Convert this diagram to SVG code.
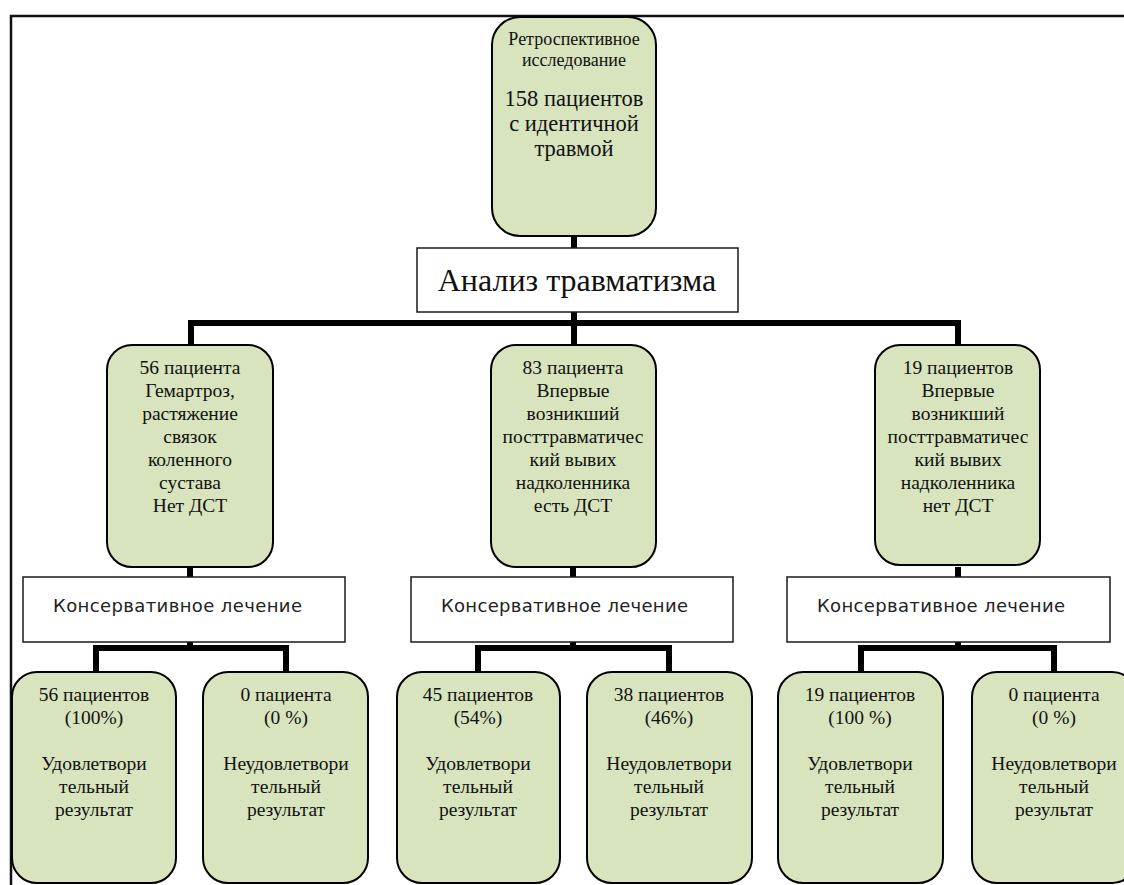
<svg xmlns="http://www.w3.org/2000/svg" width="1124" height="885" viewBox="0 0 1124 885">
<style>
.node{fill:#d7e4bd;stroke:#000;stroke-width:2}
.box{fill:#fff;stroke:#1a1a1a;stroke-width:1.5}
.t{font-family:"Liberation Serif","Times New Roman",serif;font-size:19.5px;fill:#111;text-anchor:middle}
.ts{font-family:"Liberation Serif","Times New Roman",serif;font-size:18px;fill:#111;text-anchor:middle}
.tb{font-family:"Liberation Serif","Times New Roman",serif;font-size:22.5px;fill:#111;text-anchor:middle}
.tl{font-family:"Liberation Serif","Times New Roman",serif;font-size:32px;fill:#111;text-anchor:middle}
.sans{font-family:"DejaVu Sans",Verdana,sans-serif;font-size:18px;fill:#222}
.c{stroke:#000;stroke-width:6;fill:none;stroke-linecap:butt}
.frame{stroke:#111;stroke-width:2.5;fill:none}
</style>
<rect width="1124" height="885" fill="#fff"/>
<g id="frame">
<path class="frame" d="M11,885 V16 H1124"/>
</g>
<g id="connectors">
<path class="c" d="M574,236 V248"/>
<path class="c" d="M574,312 V323"/>
<path class="c" d="M191,345 V323 H958 V345"/>
<path class="c" d="M574,323 V345"/>
<path class="c" d="M190,567 V577"/>
<path class="c" d="M573,567 V577"/>
<path class="c" d="M958,567 V577"/>
<path class="c" d="M96,672 V648 H286 V672"/>
<path class="c" d="M190,642 V648"/>
<path class="c" d="M478,672 V648 H669 V672"/>
<path class="c" d="M573,642 V648"/>
<path class="c" d="M861,672 V648 H1054 V672"/>
<path class="c" d="M958,642 V648"/>
</g>
<g id="n-top">
<rect class="node" x="492" y="17" width="164" height="219" rx="28"/>
<text class="ts" x="574" y="45">Ретроспективное</text>
<text class="ts" x="574" y="66">исследование</text>
<text class="tb" x="574" y="106">158 пациентов</text>
<text class="tb" x="574" y="131">с идентичной</text>
<text class="tb" x="574" y="156">травмой</text>
</g>
<g id="n-analysis">
<rect class="box" x="417" y="248" width="321" height="64"/>
<text class="tl" x="577" y="291">Анализ травматизма</text>
</g>
<g id="n-56">
<rect class="node" x="107" y="345" width="166" height="222" rx="25"/>
<text class="t" x="190" y="374">56 пациента</text>
<text class="t" x="190" y="397">Гемартроз,</text>
<text class="t" x="190" y="420">растяжение</text>
<text class="t" x="190" y="443">связок</text>
<text class="t" x="190" y="466">коленного</text>
<text class="t" x="190" y="489">сустава</text>
<text class="t" x="190" y="512">Нет ДСТ</text>
</g>
<g id="n-83">
<rect class="node" x="491" y="345" width="165" height="222" rx="25"/>
<text class="t" x="573" y="374">83 пациента</text>
<text class="t" x="573" y="397">Впервые</text>
<text class="t" x="573" y="420">возникший</text>
<text class="t" x="573" y="443">посттравматичес</text>
<text class="t" x="573" y="466">кий вывих</text>
<text class="t" x="573" y="489">надколенника</text>
<text class="t" x="573" y="512">есть ДСТ</text>
</g>
<g id="n-19">
<rect class="node" x="875" y="345" width="165" height="220" rx="25"/>
<text class="t" x="958" y="374">19 пациентов</text>
<text class="t" x="958" y="397">Впервые</text>
<text class="t" x="958" y="420">возникший</text>
<text class="t" x="958" y="443">посттравматичес</text>
<text class="t" x="958" y="466">кий вывих</text>
<text class="t" x="958" y="489">надколенника</text>
<text class="t" x="958" y="512">нет ДСТ</text>
</g>
<g id="k1">
<rect class="box" x="23" y="577" width="322" height="65"/>
<text class="sans" x="53" y="612" textLength="249" lengthAdjust="spacing">Консервативное лечение</text>
</g>
<g id="k2">
<rect class="box" x="411" y="577" width="322" height="65"/>
<text class="sans" x="441" y="612" textLength="247" lengthAdjust="spacing">Консервативное лечение</text>
</g>
<g id="k3">
<rect class="box" x="787" y="577" width="323" height="65"/>
<text class="sans" x="817" y="612" textLength="248" lengthAdjust="spacing">Консервативное лечение</text>
</g>
<g id="r1">
<rect class="node" x="12" y="672" width="164" height="211" rx="25"/>
<text class="t" x="94" y="701">56 пациентов</text>
<text class="t" x="94" y="724">(100%)</text>
<text class="t" x="94" y="770">Удовлетвори</text>
<text class="t" x="94" y="793">тельный</text>
<text class="t" x="94" y="816">результат</text>
</g>
<g id="r2">
<rect class="node" x="203" y="672" width="165" height="211" rx="25"/>
<text class="t" x="286" y="701">0 пациента</text>
<text class="t" x="286" y="724">(0 %)</text>
<text class="t" x="286" y="770">Неудовлетвори</text>
<text class="t" x="286" y="793">тельный</text>
<text class="t" x="286" y="816">результат</text>
</g>
<g id="r3">
<rect class="node" x="397" y="672" width="163" height="211" rx="25"/>
<text class="t" x="478" y="701">45 пациентов</text>
<text class="t" x="478" y="724">(54%)</text>
<text class="t" x="478" y="770">Удовлетвори</text>
<text class="t" x="478" y="793">тельный</text>
<text class="t" x="478" y="816">результат</text>
</g>
<g id="r4">
<rect class="node" x="587" y="672" width="165" height="211" rx="25"/>
<text class="t" x="669" y="701">38 пациентов</text>
<text class="t" x="669" y="724">(46%)</text>
<text class="t" x="669" y="770">Неудовлетвори</text>
<text class="t" x="669" y="793">тельный</text>
<text class="t" x="669" y="816">результат</text>
</g>
<g id="r5">
<rect class="node" x="778" y="672" width="165" height="211" rx="25"/>
<text class="t" x="860" y="701">19 пациентов</text>
<text class="t" x="860" y="724">(100 %)</text>
<text class="t" x="860" y="770">Удовлетвори</text>
<text class="t" x="860" y="793">тельный</text>
<text class="t" x="860" y="816">результат</text>
</g>
<g id="r6">
<rect class="node" x="972" y="672" width="165" height="211" rx="25"/>
<text class="t" x="1054" y="701">0 пациента</text>
<text class="t" x="1054" y="724">(0 %)</text>
<text class="t" x="1054" y="770">Неудовлетвори</text>
<text class="t" x="1054" y="793">тельный</text>
<text class="t" x="1054" y="816">результат</text>
</g>
</svg>
